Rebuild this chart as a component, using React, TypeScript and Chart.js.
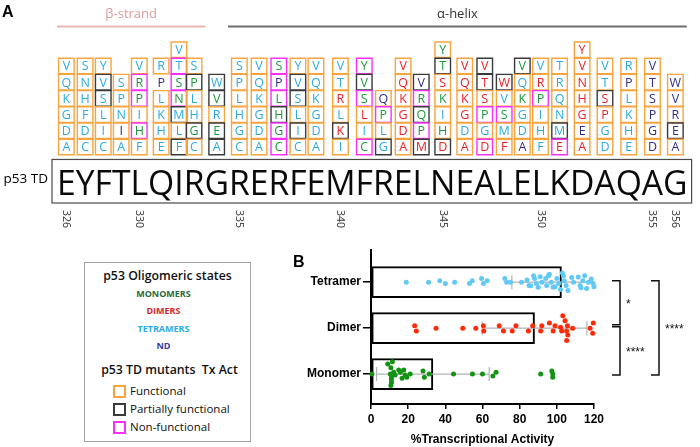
import React, { useEffect, useRef } from 'react';
import { Chart, registerables } from 'chart.js';

Chart.register(...registerables);

// ---------------- Panel A data ----------------
const sequence = 'EYFTLQIRGRERFEMFRELNEALELKDAQAG';
const firstResidue = 326;
const residueTicks = [326, 330, 335, 340, 345, 350, 355, 356];
const structureNames = ['β-strand', 'α-helix'];
const structureFrom = [326, 335];
const structureTo = [333, 356];
const structureTextColor = ['#df9b9b', '#333333'];
const structureLineColor = ['#e9b7b7', '#6f6f6f'];

// each code: letter + activity (F functional, P partially, N non-functional, X none) + state (M, D, T, N = ND)
// listed top to bottom for each residue
const mutants = [
  'VFT QFT KFT GFT DFT AFT', // 326 E
  'SFT NFT HFT FFT DFT CFT', // 327 Y
  'YFT VPT SPT LFT IFT CFT', // 328 F
  'SFT PFT NFT IFN AFT', // 329 T
  'VFT RNM PNM IFT HNM FFT', // 330 L
  'RFT PXN LFT KFT HFT EFT', // 331 Q
  'VFT TNT SNM NNM MPT LFT FPT', // 332 I
  'SFT PPM LFT HFT GPM CFT', // 333 R
  'WPT VPM RFT EPM APT', // 334 G
  'SFT PFT LFT HFT GFT CFT', // 335 R
  'VFT QFT KFT GFT DFT AFT', // 336 E
  'SNM PNN LNM HPM GNM CNM', // 337 R
  'YFT VPT SPT LFT IPT CFT', // 338 F
  'VFT QFT KFT GFT DFT AFT', // 339 E
  'VFT TFT RFD LFT KPD IFT', // 340 M
  'YNM VPM SNM LFD IFT CNM', // 341 F
  'QFN PNM LFT GPT', // 342 R
  'VFD QFD KFD GFD DFD AFD', // 343 E
  'VPN RNM QPM PNM MPD', // 344 L
  'YFM TPM SFD KFM IFT HFM DPD', // 345 N
  'VFD QFD KFD GFD DFT AFD', // 346 E
  'VPD TPD SFD PNM GFT DND', // 347 A
  'WPD VFT SNM MFT FFD', // 348 L
  'VPM QFT KFM GFT DFT AFN', // 349 E
  'VFT RFD PNM IFT HFT FFT', // 350 L
  'TFT RFT QFT NFT MPT END', // 351 K
  'YFD VFD NFD HFD GFD EFN AFD', // 352 A
  'VFT TFT SPD PFD GFT DFT', // 353 Q
  'RFT PFN LFT KFT HFT EFT', // 354 A
  'VFN TFN SFN PFN GFN DFN', // 355 Q
  'WFN VFN RFN EPN AFN', // 356 G
];

const activityColor: Record<string, string> = {
  F: '#f8a43f',
  P: '#3a3a3a',
  N: '#fa30fa',
  X: 'rgba(0,0,0,0)',
};
const stateColor: Record<string, string> = {
  M: '#1e9a3e',
  D: '#ee2127',
  T: '#2eabe3',
  N: '#2e2f8f',
};

const legendStateNames = ['MONOMERS', 'DIMERS', 'TETRAMERS', 'ND'];
const legendStateColors = ['#2b6a3c', '#d5262b', '#2eabe3', '#34399c'];
const legendActivityNames = ['Functional', 'Partially functional', 'Non-functional'];
const legendActivityColors = ['#f8a43f', '#3a3a3a', '#fa30fa'];

// ---------------- Panel B data ----------------
const categories = ['Monomer', 'Dimer', 'Tetramer'];
const meanActivity = [33.3, 88, 102.5];
const sdActivity = [30.3, 28.2, 26.7];

const monomerValues = [0.5, 9, 11.5, 10.7, 10.4, 11, 11, 10.7, 11, 12.2, 13, 14.9, 15.8, 16.7, 17.6, 18.4, 19.3, 21.1, 28, 28.7, 31.3, 44.4, 54.6, 60, 65.6, 67.3, 91.3, 97.3, 97.8, 97.8];
const monomerJitter = [0, 0.22, 0.27, 0.14, 0, -0.11, -0.18, -0.25, -0.06, 0.04, -0.02, 0.09, 0.04, -0.09, 0.09, -0.02, -0.07, 0, 0.07, -0.07, 0, 0, 0, 0, -0.04, 0.04, 0, 0.07, 0, -0.07];

const dimerValues = [23.5, 24.4, 35, 49.4, 56.4, 60.5, 60.7, 69, 71.3, 78, 76, 84.7, 87, 91.9, 91.3, 96, 98, 99, 102.6, 102, 103.2, 104.4, 105.7, 105.3, 105.9, 105.3, 108.5, 117.9, 119.6, 119.3];
const dimerJitter = [0.05, -0.06, 0, 0, 0, 0.05, -0.06, 0.05, -0.06, 0.05, -0.06, -0.06, 0.05, 0.05, -0.06, 0.11, -0.06, 0.05, -0.06, 0.02, 0.27, 0.16, 0.05, -0.06, -0.15, -0.27, 0, 0, 0.11, -0.11];

const tetramerValues = [19, 31, 37, 40, 45, 53, 54.5, 59.5, 60.5, 62.5, 72, 73, 75, 81, 84, 85, 87.5, 88, 89, 90, 92, 94, 94.5, 95.5, 97, 98, 100, 101, 102, 103, 103.5, 104, 105, 106, 109, 111.5, 112.5, 114, 115, 116, 117, 118.5, 119.5, 120, 96, 91, 99, 108, 113, 86];
const tetramerJitter = [0, 0, 0.03, -0.03, 0, -0.03, 0.03, 0.08, -0.03, 0.03, 0.08, 0, 0, 0, 0.05, -0.07, 0.14, 0.08, -0.03, -0.11, 0, 0.08, -0.07, 0.14, 0, -0.11, 0.08, -0.03, -0.16, 0.2, 0.14, 0.03, -0.07, -0.18, 0, 0.11, -0.07, 0.03, 0.14, -0.14, 0, 0.07, -0.03, -0.1, 0.17, 0.12, -0.1, 0.1, -0.12, -0.08];

const groupValues = [monomerValues, dimerValues, tetramerValues];
const groupJitter = [monomerJitter, dimerJitter, tetramerJitter];
const groupColors = ['#139313', '#ff2b08', '#62c8f4'];

const xMin = 0;
const xMax = 120;
const xStep = 20;

const comparisonFrom = [2, 1, 2];
const comparisonTo = [1, 0, 0];
const comparisonLabels = ['*', '****', '****'];
const comparisonLevel = [0, 0, 1];

const SEQ_FONT = 34.5;
const OPEN = '"Open Sans", "DejaVu Sans", sans-serif';
const ARIAL = '"Liberation Sans", Arial, sans-serif';

function measureSequence() {
  const c = document.createElement('canvas').getContext('2d') as CanvasRenderingContext2D;
  c.font = `${SEQ_FONT}px ${OPEN}`;
  const centers: number[] = [];
  let acc = 0;
  for (const ch of sequence) {
    const w = c.measureText(ch).width;
    centers.push(acc + w / 2);
    acc += w;
  }
  return { centers, total: acc };
}

function makePanelAPlugin(centers: number[], total: number) {
  return {
    id: 'panelA',
    afterDatasetsDraw(chart: any) {
      const ctx = chart.ctx;
      const meta = chart.getDatasetMeta(0);
      const raw = chart.data.datasets[0].data;
      ctx.save();
      ctx.font = `12.5px ${OPEN}`;
      ctx.textAlign = 'center';
      ctx.textBaseline = 'alphabetic';
      meta.data.forEach((el: any, i: number) => {
        const p = raw[i];
        ctx.fillStyle = stateColor[p.state];
        ctx.fillText(p.letter, el.x, el.y + 4.4);
      });
      ctx.restore();
    },
    afterDraw(chart: any) {
      const { ctx, chartArea } = chart;
      const xs = chart.scales.x;
      const ys = chart.scales.y;
      const px = (i: number) => xs.getPixelForValue(centers[i]);
      ctx.save();
      // sequence box
      const boxTop = ys.getPixelForValue(-0.77);
      ctx.strokeStyle = '#4a4a4a';
      ctx.lineWidth = 1.2;
      ctx.strokeRect(chartArea.left - 5, boxTop, chartArea.right - chartArea.left + 9, chartArea.bottom - boxTop);
      // sequence letters
      const sx = (chartArea.right - chartArea.left) / total;
      ctx.font = `${SEQ_FONT}px ${OPEN}`;
      ctx.fillStyle = '#0a0a0a';
      ctx.textAlign = 'center';
      ctx.textBaseline = 'alphabetic';
      Array.from(sequence).forEach((ch, i) => {
        ctx.save();
        ctx.translate(px(i), chartArea.bottom - 8);
        ctx.scale(sx, 1);
        ctx.fillText(ch, 0, 0);
        ctx.restore();
      });
      // residue numbers (rotated clockwise)
      ctx.font = `10.5px ${OPEN}`;
      ctx.fillStyle = '#333';
      ctx.textAlign = 'left';
      ctx.textBaseline = 'middle';
      residueTicks.forEach((r) => {
        const i = r - firstResidue;
        ctx.save();
        ctx.translate(px(i), chartArea.bottom + 7);
        ctx.rotate(Math.PI / 2);
        ctx.fillText(String(r), 0, 0);
        ctx.restore();
      });
      // secondary structure annotations
      const n = sequence.length;
      structureNames.forEach((name, k) => {
        const a = structureFrom[k] - firstResidue;
        const b = structureTo[k] - firstResidue;
        const xa = px(a);
        const prev = a > 0 ? px(a - 1) : xa - (px(a + 1) - xa);
        const xb = px(b);
        const next = b < n - 1 ? px(b + 1) : xb + (xb - px(b - 1));
        const left = (xa + prev) / 2;
        const right = (xb + next) / 2;
        ctx.strokeStyle = structureLineColor[k];
        ctx.lineWidth = 2;
        ctx.beginPath();
        ctx.moveTo(left, 26.5);
        ctx.lineTo(right, 26.5);
        ctx.stroke();
        ctx.font = `13px ${OPEN}`;
        ctx.fillStyle = structureTextColor[k];
        ctx.textAlign = 'center';
        ctx.textBaseline = 'middle';
        ctx.fillText(name, (left + right) / 2, 14);
      });
      // panel letter and row label
      ctx.font = `bold 16px ${ARIAL}`;
      ctx.fillStyle = '#000';
      ctx.textAlign = 'left';
      ctx.textBaseline = 'alphabetic';
      ctx.fillText('A', 2, 17);
      ctx.font = `13.5px ${OPEN}`;
      ctx.textAlign = 'right';
      ctx.textBaseline = 'middle';
      ctx.fillText('p53 TD', 48, 179);
      ctx.restore();
    },
  };
}

const panelBPlugin = {
  id: 'panelB',
  afterDatasetDraw(chart: any, args: any) {
    if (args.meta.type !== 'bar') return;
    const ctx = chart.ctx;
    const xs = chart.scales.x;
    const ys = chart.scales.y;
    ctx.save();
    ctx.strokeStyle = '#b3b3b3';
    ctx.lineWidth = 1.2;
    categories.forEach((_, i) => {
      const y = ys.getPixelForValue(i);
      const lo = meanActivity[i] - sdActivity[i];
      const hi = meanActivity[i] + sdActivity[i];
      const xl = xs.getPixelForValue(Math.max(lo, xMin));
      const xh = xs.getPixelForValue(Math.min(hi, xMax));
      ctx.beginPath();
      ctx.moveTo(xl, y);
      ctx.lineTo(xh, y);
      if (lo >= xMin) {
        ctx.moveTo(xl, y - 7);
        ctx.lineTo(xl, y + 7);
      }
      if (hi <= xMax) {
        ctx.moveTo(xh, y - 7);
        ctx.lineTo(xh, y + 7);
      }
      ctx.stroke();
    });
    ctx.restore();
  },
  afterDraw(chart: any) {
    const { ctx, chartArea } = chart;
    const ys = chart.scales.y;
    ctx.save();
    ctx.strokeStyle = '#111';
    ctx.fillStyle = '#111';
    ctx.lineWidth = 1.5;
    ctx.font = `12px ${ARIAL}`;
    ctx.textAlign = 'left';
    ctx.textBaseline = 'middle';
    comparisonFrom.forEach((a, k) => {
      const b = comparisonTo[k];
      const x = chartArea.right + 26 + comparisonLevel[k] * 39;
      const top = ys.getPixelForValue(a) - 1.5;
      let bottom = ys.getPixelForValue(b) + 1;
      const sharesBottom = comparisonFrom.some((a2, m) => m !== k && comparisonLevel[m] === comparisonLevel[k] && a2 === b);
      if (sharesBottom) bottom = ys.getPixelForValue(b) - 3.5;
      ctx.beginPath();
      ctx.moveTo(x - 8, top);
      ctx.lineTo(x, top);
      ctx.lineTo(x, bottom);
      ctx.lineTo(x - 8, bottom);
      ctx.stroke();
      ctx.fillText(comparisonLabels[k], x + 6, (top + bottom) / 2 + 2);
    });
    ctx.font = `bold 16px ${ARIAL}`;
    ctx.fillStyle = '#000';
    ctx.textBaseline = 'alphabetic';
    ctx.fillText('B', 13, 27);
    ctx.restore();
  },
};

export default function App() {
  const refA = useRef<HTMLCanvasElement>(null);
  const refB = useRef<HTMLCanvasElement>(null);

  useEffect(() => {
    document.body.style.margin = '0';
    const { centers, total } = measureSequence();

    const points: any[] = [];
    mutants.forEach((col, i) => {
      const items = col.split(' ');
      items.forEach((code, j) => {
        points.push({ x: centers[i], y: items.length - 1 - j, letter: code[0], act: code[1], state: code[2] });
      });
    });

    const chartA = new Chart(refA.current as HTMLCanvasElement, {
      type: 'scatter',
      data: {
        datasets: [
          {
            data: points,
            pointStyle: 'rect',
            pointRadius: 11,
            pointHoverRadius: 11,
            pointBackgroundColor: 'rgba(0,0,0,0)',
            pointBorderColor: (c: any) => (c.raw ? activityColor[c.raw.act] : '#000'),
            pointBorderWidth: 1.4,
            clip: false,
          } as any,
        ],
      },
      options: {
        animation: false,
        responsive: false,
        events: [],
        layout: { padding: { left: 57, right: 7, top: 30, bottom: 29 } },
        scales: {
          x: { type: 'linear', display: false, min: 0, max: total },
          y: { type: 'linear', display: false, min: -3.457, max: 7.22 },
        },
        plugins: { legend: { display: false }, tooltip: { enabled: false } },
      },
      plugins: [makePanelAPlugin(centers, total)],
    });

    const datasetsB: any[] = [
      {
        type: 'bar',
        indexAxis: 'y',
        data: categories.map((_, i) => ({ x: meanActivity[i], y: i })),
        backgroundColor: '#ffffff',
        borderColor: '#000000',
        borderWidth: 2,
        borderSkipped: false,
        barThickness: 31,
        order: 5,
      },
      ...groupValues.map((vals, g) => ({
        type: 'scatter',
        data: vals.map((v, k) => ({ x: v, y: g + groupJitter[g][k] })),
        pointBackgroundColor: groupColors[g],
        pointBorderWidth: 0,
        pointRadius: 2.5,
        pointHoverRadius: 2.5,
        clip: false,
        order: 1,
      })),
    ];

    const chartB = new Chart(refB.current as HTMLCanvasElement, {
      type: 'scatter',
      data: { datasets: datasetsB },
      options: {
        animation: false,
        responsive: false,
        events: [],
        layout: { padding: { left: 0, right: 106, top: 10, bottom: 0 } },
        scales: {
          x: {
            type: 'linear',
            min: xMin,
            max: xMax,
            offset: false,
            ticks: { stepSize: xStep, color: '#000', font: { family: ARIAL, size: 12, weight: 'bold' }, padding: 3 },
            grid: { offset: false, drawOnChartArea: false, drawTicks: true, tickLength: 5, color: '#000', lineWidth: 1.5 },
            border: { display: true, color: '#000', width: 2 },
            title: {
              display: true,
              text: '%Transcriptional Activity',
              color: '#000',
              font: { family: ARIAL, size: 12, weight: 'bold' },
              padding: { top: 4, bottom: 0 },
            },
            afterFit: (s: any) => {
              s.height = 43;
            },
          },
          y: {
            type: 'linear',
            min: -0.65,
            max: 2.7,
            offset: false,
            afterBuildTicks: (s: any) => {
              s.ticks = categories.map((_, i) => ({ value: i }));
            },
            ticks: {
              color: '#000',
              font: { family: ARIAL, size: 12, weight: 'bold' },
              padding: 2,
              autoSkip: false,
              callback: (v: any) => categories[Math.round(Number(v))] ?? '',
            },
            grid: { offset: false, drawOnChartArea: false, drawTicks: true, tickLength: 8, color: '#000', lineWidth: 1.5 },
            border: { display: true, color: '#000', width: 2 },
            afterFit: (s: any) => {
              s.width = 91;
            },
          },
        },
        plugins: { legend: { display: false }, tooltip: { enabled: false } },
      } as any,
      plugins: [panelBPlugin],
    });

    return () => {
      chartA.destroy();
      chartB.destroy();
    };
  }, []);

  const row = (cy: number, extra: any = {}) => ({
    position: 'absolute' as const,
    left: 0,
    width: 165,
    top: cy - 8,
    height: 16,
    lineHeight: '16px',
    textAlign: 'center' as const,
    whiteSpace: 'pre' as const,
    ...extra,
  });

  return (
    <div style={{ position: 'fixed', left: 0, top: 0, width: 700, height: 447, background: '#fff', overflow: 'hidden' }}>
      <canvas ref={refA} width={700} height={232} style={{ position: 'absolute', left: 0, top: 0 }} />
      <canvas ref={refB} width={420} height={207} style={{ position: 'absolute', left: 280, top: 240 }} />
      <div
        style={{
          position: 'absolute',
          left: 84,
          top: 262,
          width: 167,
          height: 180,
          border: '1px solid #a3a3a3',
          boxSizing: 'border-box',
          fontFamily: OPEN,
          color: '#111',
        }}
      >
        <div style={row(13, { fontSize: 12.3, fontWeight: 600 })}>p53 Oligomeric states</div>
        {legendStateNames.map((name, i) => (
          <div key={name} style={row(31 + i * 17.3, { fontSize: 9, fontWeight: 700, color: legendStateColors[i], width: 157 })}>
            {name}
          </div>
        ))}
        <div style={row(107, { fontSize: 12.3, fontWeight: 600, width: 169 })}>{'p53 TD mutants  Tx Act'}</div>
        {legendActivityNames.map((name, i) => (
          <div key={name}>
            <div
              style={{
                position: 'absolute',
                left: 28,
                top: 128 + i * 18 - 6.5,
                width: 13,
                height: 13,
                boxSizing: 'border-box',
                borderStyle: 'solid',
                borderWidth: 2,
                borderColor: legendActivityColors[i],
              }}
            />
            <div
              style={{
                position: 'absolute',
                left: 45,
                top: 128 + i * 18 - 8,
                height: 16,
                lineHeight: '16px',
                fontSize: 11.5,
                whiteSpace: 'pre',
              }}
            >
              {name}
            </div>
          </div>
        ))}
      </div>
    </div>
  );
}
